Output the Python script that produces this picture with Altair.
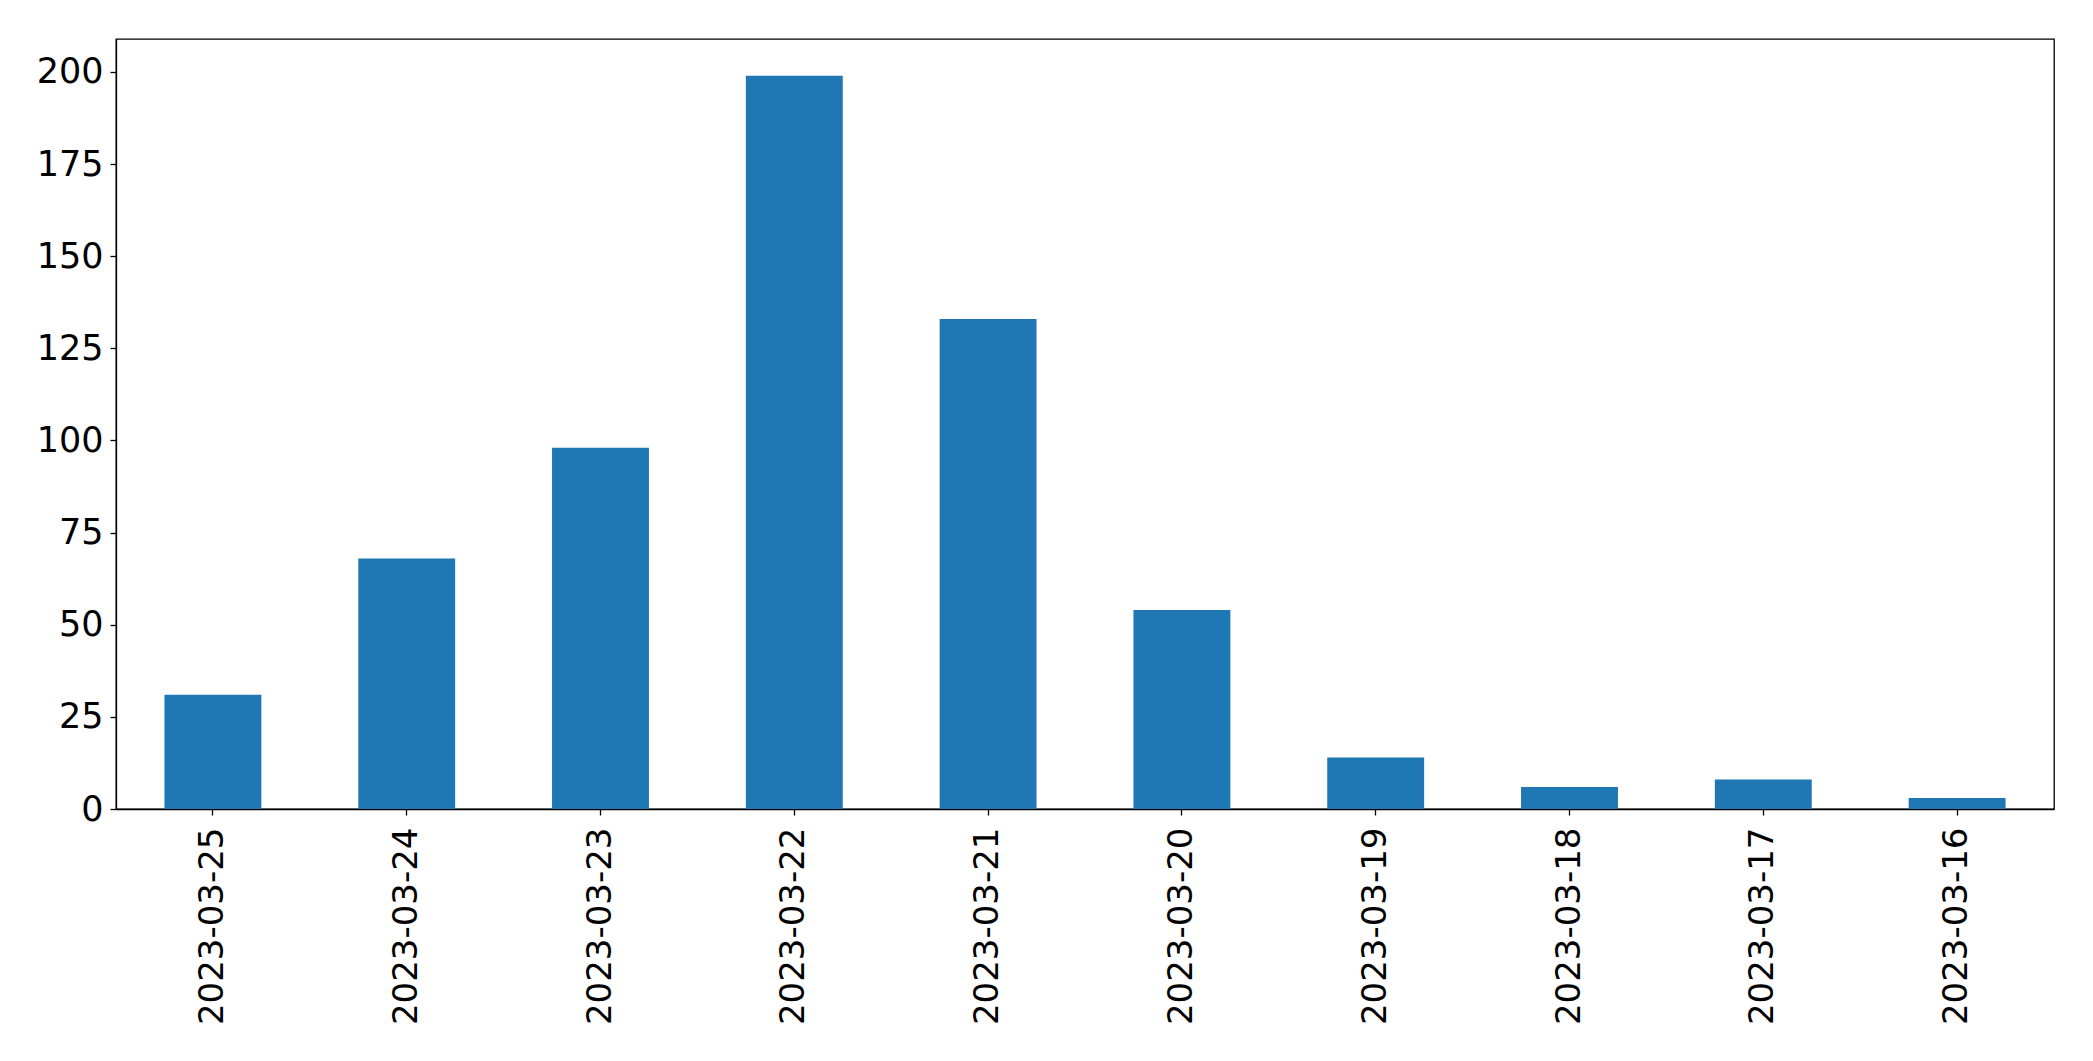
import altair as alt
import pandas as pd

dates = ["2023-03-25", "2023-03-24", "2023-03-23", "2023-03-22", "2023-03-21",
         "2023-03-20", "2023-03-19", "2023-03-18", "2023-03-17", "2023-03-16"]
counts = [31, 68, 98, 199, 133, 54, 14, 6, 8, 3]

df = pd.DataFrame({"date": dates, "count": counts})

FONT = "DejaVu Sans"

chart = alt.Chart(df).mark_bar(color="#1f77b4").encode(
    x=alt.X("date:N", sort=dates,
            scale=alt.Scale(paddingInner=0.5, paddingOuter=0.25),
            axis=alt.Axis(title=None, labelAngle=270, labelFontSize=34, labelFont=FONT,
                          labelColor="black", tickColor="black", tickSize=6, tickWidth=1.3,
                          domainColor="black", domainWidth=1.3, labelPadding=12,
                          labelLimit=600, grid=False)),
    y=alt.Y("count:Q", scale=alt.Scale(domain=[0, 208.95], nice=False, zero=True),
            axis=alt.Axis(title=None, values=[0, 25, 50, 75, 100, 125, 150, 175, 200],
                          labelFontSize=35, labelFont=FONT, labelColor="black",
                          tickColor="black", tickSize=6, tickWidth=1.3,
                          domainColor="black", domainWidth=1.3, labelPadding=7, grid=False)),
).properties(
    width=1938, height=770,
    autosize=alt.AutoSizeParams(type="none"),
    padding={"left": 108, "top": 31, "right": 30, "bottom": 240},
).configure_view(stroke="black", strokeWidth=1.3)

chart.save("out.html", embed_options={"renderer": "svg", "actions": False})
